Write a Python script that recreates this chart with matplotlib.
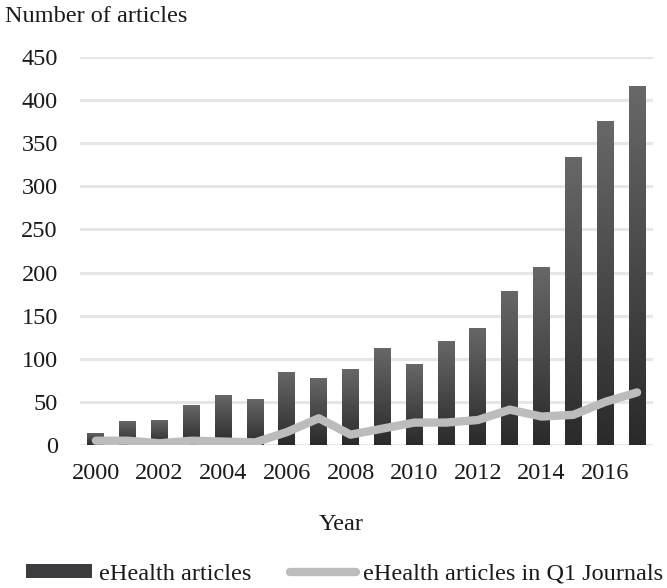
import numpy as np
import matplotlib
matplotlib.use("Agg")
import matplotlib.pyplot as plt
from matplotlib.patches import Patch
from matplotlib.lines import Line2D
from matplotlib.colors import LinearSegmentedColormap

years = list(range(2000, 2018))
all_articles = [14, 28, 29, 46, 58, 53, 85, 78, 88, 113, 94, 121, 136, 179, 207, 334, 376, 416]
q1_articles = [5, 5, 2, 5, 4, 3, 15, 31, 12, 19, 26, 26, 29, 41, 33, 35, 50, 61]
xtick_labels = [str(y) for y in years[::2]]
yticks = list(range(0, 451, 50))

plt.rcParams["font.family"] = ["Liberation Serif", "DejaVu Serif"]
FS = 17.5
TXT = "#1a1a1a"

fig = plt.figure(figsize=(6.67, 5.88), dpi=100)
ax = fig.add_axes([80 / 667, 1 - 445 / 588, 573 / 667, 388 / 588])

x = np.arange(len(years))
bar_cmap = LinearSegmentedColormap.from_list("bar", ["#2a2a2a", "#68686b"])
grad = np.linspace(0, 1, 256).reshape(-1, 1)

bars = ax.bar(x, all_articles, width=0.53, color="#3a3a3a", zorder=2)
for b in bars:
    x0, y0 = b.get_x(), b.get_y()
    w, h = b.get_width(), b.get_height()
    im = ax.imshow(grad, cmap=bar_cmap, origin="lower", aspect="auto",
                   extent=(x0, x0 + w, y0, y0 + h), zorder=2.5)
    im.set_clip_path(b)

ax.plot(x, q1_articles, color="#bcbcbf", lw=6, solid_capstyle="round",
        solid_joinstyle="round", zorder=3)

ax.set_xlim(-0.5, 17.5)
ax.set_ylim(0, 450)
ax.set_yticks(yticks)
ax.set_xticks(x[::2])
ax.set_xticklabels(xtick_labels)
ax.grid(axis="y", color="#e6e6e6", lw=2.2, zorder=0)
ax.set_axisbelow(True)
for s in ax.spines.values():
    s.set_visible(False)
ax.tick_params(length=0, labelsize=FS, colors=TXT)
ax.tick_params(axis="y", pad=16)
ax.tick_params(axis="x", pad=13)

fig.text(5 / 667, 1 - 17 / 588, "Number of articles", fontsize=FS,
         color=TXT, va="center", ha="left")
fig.text(341 / 667, 1 - 524 / 588, "Year", fontsize=FS, color=TXT,
         va="center", ha="center")

handles = [Patch(facecolor="#3c3c3e", edgecolor="none"),
           Line2D([], [], color="#bcbcbf", lw=6, solid_capstyle="round")]
fig.legend(handles, ["eHealth articles", "eHealth articles in Q1 Journals"],
           loc="center", bbox_to_anchor=(344.5 / 667, 1 - 574 / 588), ncol=2,
           frameon=False, fontsize=FS, handlelength=2.7, handleheight=0.55,
           handletextpad=0.3, columnspacing=1.6, labelcolor=TXT,
           borderpad=0, borderaxespad=0)

fig.savefig("out.png", dpi=100)
